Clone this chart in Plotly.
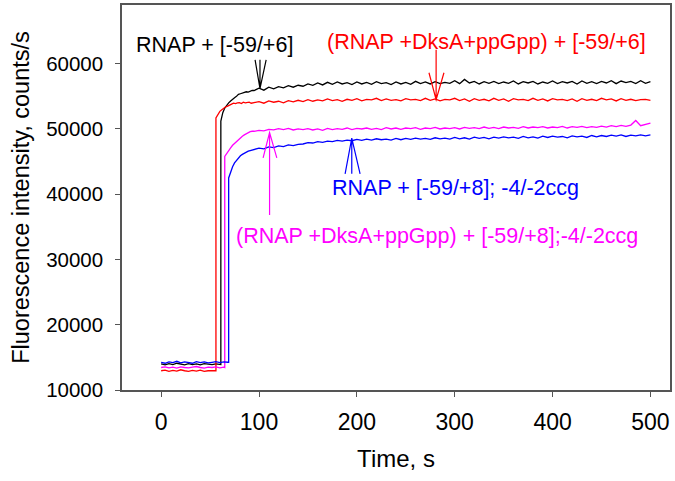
import plotly.graph_objects as go

# ---------------- data ----------------
# black: RNAP + [-59/+6]
black_t = list(range(0, 61, 4)) + [61, 61] + list(range(63, 95, 2)) + list(range(95, 501, 5))
black_base = [14000, 13850, 14050, 13900, 14100, 13950, 13850, 14050, 13900, 14000, 13850, 14050, 13950, 13900, 14000, 13850]
black_jump = [13900, 51200]
black_rise = [52500, 53200, 53700, 54000, 54300, 54600, 54800, 55000, 55300, 55400, 55500, 55600, 55700, 55650, 55800, 55900]
black_plat = [55900, 56250, 55950, 56400, 56150, 56500, 56300, 56650, 56400, 56700,
              56550, 56900, 56700, 57050, 56750, 57150, 56850, 57200, 56900, 57100,
              56800, 57200, 56900, 57150, 56850, 57250, 56950, 57100, 56800, 57200,
              56900, 57150, 56850, 57300, 56950, 57200, 56900, 57250, 56950, 57150,
              57000, 57400, 56950, 57600, 57050, 57300, 56900, 57250, 57000, 57300,
              56950, 57200, 57000, 57350, 56900, 57250, 57050, 57300, 56900, 57200,
              57000, 57350, 56950, 57250, 57050, 57300, 56900, 57350, 57000, 57250,
              56950, 57300, 57050, 57400, 56950, 57350, 57100, 57300, 56950, 57400,
              57000, 57250]

# red: (RNAP +DksA+ppGpp) + [-59/+6]
red_t = list(range(0, 56, 4)) + [56, 56] + list(range(58, 95, 2)) + list(range(95, 501, 5))
red_base = [12950, 13050, 12850, 13000, 12900, 13100, 12950, 12850, 13000, 12900, 13050, 12850, 12950, 12900]
red_jump = [12950, 51700]
red_rise = [52300, 52700, 52950, 53200, 53400, 53500, 53700, 53800, 53950, 53900,
            54000, 54050, 53900, 54100, 54000, 54050, 54100, 53950, 54100]
red_plat = [54050, 54200, 53950, 54300, 54100, 54250, 54000, 54350, 54150, 54400,
            54200, 54500, 54250, 54450, 54300, 54600, 54350, 54500, 54250, 54550,
            54400, 54650, 54300, 54550, 54450, 54700, 54350, 54600, 54400, 54500,
            54300, 54650, 54450, 54550, 54350, 54700, 54400, 54600, 54300, 54550,
            54450, 54700, 54350, 54600, 54250, 54650, 54400, 54550, 54300, 54700,
            54400, 54600, 54250, 54650, 54450, 54550, 54350, 54700, 54400, 54600,
            54300, 54650, 54450, 54550, 54350, 54600, 54250, 54650, 54400, 54550,
            54350, 54700, 54450, 54600, 54300, 54650, 54400, 54550, 54350, 54500,
            54550, 54400]

# magenta: (RNAP +DksA+ppGpp) + [-59/+8];-4/-2ccg
mag_t = list(range(0, 65, 4)) + [65, 65] + list(range(67, 95, 2)) + list(range(95, 501, 5))
mag_base = [13450, 13550, 13400, 13500, 13350, 13550, 13450, 13400, 13500, 13600, 13450, 13350, 13500, 13450, 13550, 13400, 13500]
mag_jump = [13450, 45800]
mag_rise = [46300, 46700, 47100, 47500, 47800, 48100, 48400, 48600, 48900, 49100, 49300, 49400, 49600, 49650]
mag_plat = [49650, 49800, 49700, 49950, 49850, 50050, 49900, 50100, 49850, 50000,
            49900, 50050, 49850, 50000, 49800, 50100, 49900, 50050, 49950, 50150,
            49900, 50100, 50000, 50150, 49950, 50100, 49900, 50200, 50000, 50150,
            49950, 50150, 50050, 50200, 49950, 50150, 50050, 50250, 50000, 50150,
            50050, 50200, 50000, 50250, 50100, 50200, 50050, 50300, 50100, 50250,
            50050, 50300, 50150, 50250, 50100, 50350, 50150, 50300, 50200, 50350,
            50150, 50300, 50200, 50400, 50150, 50350, 50250, 50400, 50200, 50350,
            50250, 50450, 50300, 50500, 50350, 50550, 50400, 50600, 51300, 50500,
            50650, 50900]

# blue: RNAP + [-59/+8]; -4/-2ccg
blue_t = list(range(0, 69, 4)) + [69, 69] + list(range(71, 95, 2)) + list(range(95, 501, 5))
blue_base = [14250, 14100, 14300, 14200, 14400, 14150, 14300, 14250, 14100, 14350, 14200, 14300, 14150, 14250, 14350, 14200, 14300, 14250]
blue_jump = [14250, 42500]
blue_rise = [43500, 44200, 44800, 45200, 45600, 45900, 46100, 46300, 46500, 46600, 46700, 46800]
blue_plat = [46850, 47050, 46950, 47250, 47150, 47400, 47300, 47550, 47450, 47650,
             47700, 47900, 47850, 48050, 47950, 48150, 48050, 48250, 48150, 48300,
             48200, 48400, 48250, 48450, 48300, 48500, 48350, 48450, 48300, 48550,
             48350, 48550, 48400, 48600, 48450, 48550, 48400, 48650, 48500, 48600,
             48450, 48700, 48500, 48650, 48450, 48750, 48550, 48700, 48500, 48750,
             48600, 48800, 48650, 48750, 48550, 48850, 48650, 48800, 48600, 48900,
             48700, 48900, 48750, 48850, 48650, 48950, 48800, 48900, 48700, 49000,
             48800, 49000, 48850, 49050, 48900, 49100, 48850, 49050, 48950, 49100,
             48950, 49100]

series = [
    ("RNAP + [-59/+6]", "#000000", black_t, black_base + black_jump + black_rise + black_plat),
    ("(RNAP +DksA+ppGpp) + [-59/+6]", "#ff0000", red_t, red_base + red_jump + red_rise + red_plat),
    ("(RNAP +DksA+ppGpp) + [-59/+8];-4/-2ccg", "#ff00ff", mag_t, mag_base + mag_jump + mag_rise + mag_plat),
    ("RNAP + [-59/+8]; -4/-2ccg", "#0000ff", blue_t, blue_base + blue_jump + blue_rise + blue_plat),
]

# label text positions (time, intensity)
label_x = [55, 332, 282, 301]
label_y = [62900, 63370, 33620, 40980]
# arrows: tip (time, intensity), tail end intensity, head side-times, head side intensity
arrow_tip_x = [101, 281, 110.8, 194.8]
arrow_tip_y = [56170, 54480, 49460, 48600]
arrow_tail_y = [60600, 62150, 36800, 43130]
arrow_left_x = [96, 273.7, 104.2, 188]
arrow_right_x = [107.3, 289, 118.2, 203.3]
arrow_side_y = [60600, 58620, 45580, 43130]

x_ticks = [0, 100, 200, 300, 400, 500]
y_ticks = [10000, 20000, 30000, 40000, 50000, 60000]

FONT = "Liberation Sans, Arial, Helvetica, sans-serif"

fig = go.Figure()
for name, color, t, y in series:
    assert len(t) == len(y), (name, len(t), len(y))
    fig.add_trace(go.Scatter(x=t, y=y, mode="lines", name=name,
                             line=dict(color=color, width=1.3), showlegend=False))

shapes = []
annotations = []
for i, (name, color, _, _) in enumerate(series):
    tx, ty = arrow_tip_x[i], arrow_tip_y[i]
    path = (f"M {tx},{arrow_tail_y[i]} L {tx},{ty} "
            f"M {arrow_left_x[i]},{arrow_side_y[i]} L {tx},{ty} L {arrow_right_x[i]},{arrow_side_y[i]}")
    shapes.append(dict(type="path", xref="x", yref="y", path=path,
                       line=dict(color=color, width=1.2)))
    annotations.append(dict(x=label_x[i], y=label_y[i], xref="x", yref="y",
                            text=name, showarrow=False,
                            font=dict(family=FONT, size=21.5, color=color)))

axis_common = dict(showline=True, linecolor="#555555", linewidth=1.5, mirror=True,
                   ticks="outside", ticklen=5, tickcolor="#555555", tickwidth=1.2,
                   showgrid=False, zeroline=False, automargin=False)

fig.update_layout(
    width=675, height=481,
    margin=dict(l=122, r=5, t=5, b=91),
    paper_bgcolor="white", plot_bgcolor="white",
    font=dict(family=FONT, color="#000000"),
    shapes=shapes, annotations=annotations,
    xaxis=dict(range=[-40, 520], tickvals=x_ticks, tickfont=dict(size=23),
               ticklabelstandoff=6,
               title=dict(text="Time, s", font=dict(size=24), standoff=16), **axis_common),
    yaxis=dict(range=[10000, 69000], tickvals=y_ticks, tickformat="d", tickfont=dict(size=20.5),
               ticklabelstandoff=8,
               title=dict(text="Fluorescence intensity, counts/s", font=dict(size=23.5), standoff=10),
               **axis_common),
)

fig.write_html("out.html", config={"displayModeBar": False},
               post_script="document.body.style.margin='0';document.body.style.padding='0';")
